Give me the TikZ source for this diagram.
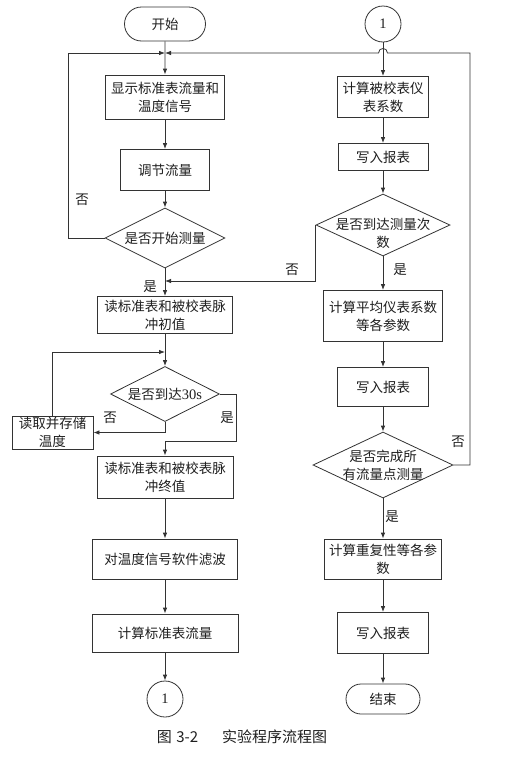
\documentclass[tikz,border=0pt]{standalone}
\usepackage{fontspec}
\setmainfont{Noto Sans CJK SC}
\newfontfamily\latf{Liberation Serif}
\usetikzlibrary{shapes.geometric,shapes.misc,arrows.meta}
\begin{document}
\begin{tikzpicture}[x=1pt,y=-1pt,
  every node/.style={font=\fontsize{13.5}{18}\selectfont, text=black!88},
  line/.style={draw=black!80, line width=0.8pt},
  arr/.style={line, -{Latex[length=6pt,width=4.5pt]}},
  box/.style={line, rectangle, inner sep=0pt, align=center},
  dia/.style={line, diamond, inner sep=0pt},
  term/.style={line, rounded rectangle, inner sep=0pt},
  conn/.style={line, circle, inner sep=0pt, minimum size=36pt},
  lbl/.style={align=center, inner sep=0pt},
]
\useasboundingbox[fill=white] (0,0) rectangle (520,758);

% left column
\node[term, minimum width=81, minimum height=34] (start) at (165,24) {开始};
\coordinate (j1) at (165,53);
\node[box, minimum width=119, minimum height=44] (b1) at (165,97) {显示标准表流量和\\温度信号};
\node[box, minimum width=89, minimum height=41] (b2) at (165,170) {调节流量};
\node[dia, minimum width=120, minimum height=60, label={[lbl]center:是否开始测量}] (d1) at (165,238) {};
\coordinate (j2) at (165,281);
\node[box, minimum width=135, minimum height=37] (b3) at (165,315) {读标准表和被校表脉\\冲初值};
\coordinate (j3) at (165,352);
\node[dia, minimum width=109, minimum height=55, label={[lbl]center:是否到达{\latf\fontsize{14.5}{18}\selectfont 30s}}] (d2) at (165,394) {};
\node[box, minimum width=81, minimum height=33] (rd) at (52.5,432.5) {读取并存储\\温度};
\coordinate (j4) at (165,441);
\node[box, minimum width=136, minimum height=42] (b4) at (165,477) {读标准表和被校表脉\\冲终值};
\node[box, minimum width=145, minimum height=40] (b5) at (165,559) {对温度信号软件滤波};
\node[box, minimum width=146, minimum height=38] (b6) at (165,633) {计算标准表流量};
\node[conn] (c1) at (165,699) {\latf\fontsize{14.5}{18}\selectfont 1};

% right column
\node[conn] (c2) at (383,24) {\latf\fontsize{14.5}{18}\selectfont 1};
\node[box, minimum width=91, minimum height=41] (r1) at (383,97) {计算被校表仪\\表系数};
\node[box, minimum width=90, minimum height=27] (r2) at (383,157) {写入报表};
\node[dia, minimum width=134, minimum height=62, label={[lbl, yshift=-8pt]center:是否到达测量次\\数}] (dr1) at (383,225) {};
\node[box, minimum width=119, minimum height=51] (r3) at (383,316) {计算平均仪表系数\\等各参数};
\node[box, minimum width=91, minimum height=39] (r4) at (383,387) {写入报表};
\node[dia, minimum width=140, minimum height=66, label={[lbl]center:是否完成所\\有流量点测量}] (dr2) at (383,465) {};
\node[box, minimum width=117, minimum height=40] (r5) at (383,559) {计算重复性等各参\\数};
\node[box, minimum width=91, minimum height=41] (r6) at (383,633) {写入报表};
\node[term, minimum width=74, minimum height=30] (end) at (383,699) {结束};

% caption
\node[font=\fontsize{15}{18}\selectfont] (cap) at (242,737) {图\hspace{0.3em}3-2\hspace{1.6em}实验程序流程图};

% straight arrows
\draw[arr] (start) -- (b1);
\draw[arr] (b1) -- (b2);
\draw[arr] (b2) -- (d1);
\draw[arr] (d1) -- (b3);
\draw[arr] (b3) -- (d2);
\draw[arr] (b4) -- (b5);
\draw[arr] (b5) -- (b6);
\draw[arr] (b6) -- (c1);
\draw[arr] (c2) -- (r1);
\draw[arr] (r1) -- (r2);
\draw[arr] (r2) -- (dr1);
\draw[arr] (dr1) -- (r3);
\draw[arr] (r3) -- (r4);
\draw[arr] (r4) -- (dr2);
\draw[arr] (dr2) -- (r5);
\draw[arr] (r5) -- (r6);
\draw[arr] (r6) -- (end);

% loops
\draw[arr] (d1.west) -- (68,238) |- (j1);
\draw[arr] (dr2.east) -- (470,465) -- (470,53) -- (387.5,53)
   .. controls (387.5,47) and (378.5,47) .. (378.5,53) -- (j1);
\draw[arr] (dr1.west) |- (j2);
\draw[arr] (rd.north) |- (j3);
\draw[arr] (d2.south) |- (rd.east);
\draw[line] (d2.east) -- (236,394) |- (j4);
\draw[arr] (j4) -- (b4);

% labels
\node (n1) at (82,200) {否};
\node (y1) at (150,287) {是};
\node (n2) at (110,418) {否};
\node (y2) at (227,418) {是};
\node (n3) at (292,270) {否};
\node (y3) at (400,270) {是};
\node (n4) at (458,442) {否};
\node (y4) at (392,517) {是};
\end{tikzpicture}
\end{document}
